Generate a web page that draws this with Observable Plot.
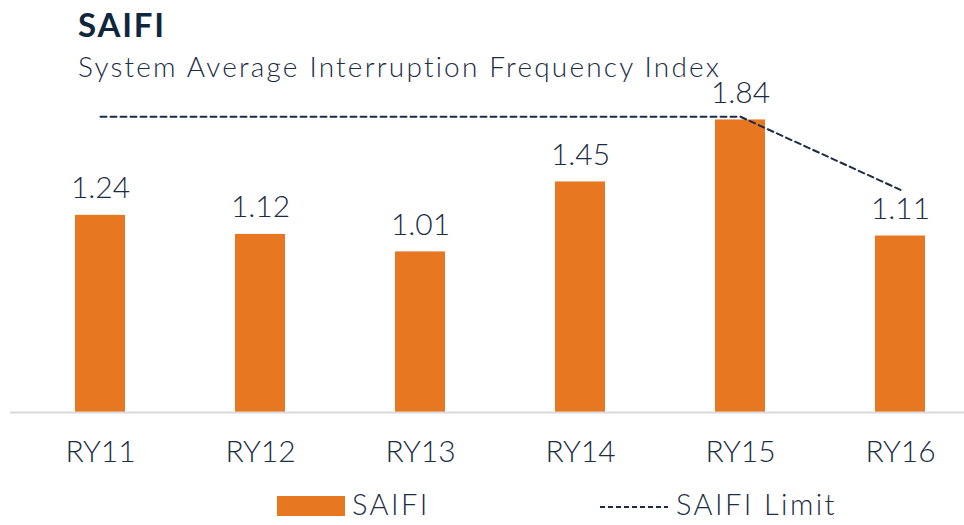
<!DOCTYPE html>
<html>
<head>
<meta charset="utf-8">
<script src="https://cdn.jsdelivr.net/npm/d3@7"></script>
<script src="https://cdn.jsdelivr.net/npm/@observablehq/plot@0.6"></script>
<style>
  html, body { margin: 0; padding: 0; background: #fff; }
  body { width: 964px; height: 525px; overflow: hidden; font-family: Lato, "Open Sans", sans-serif; color: #1b2d45; }
  #head { height: 70px; position: relative; }
  #title { position: absolute; left: 78px; top: 4px; font-size: 33px; font-weight: 700; color: #10263d; letter-spacing: 1.8px; }
  #subtitle { position: absolute; left: 78px; top: 49px; font-size: 28px; font-weight: 300; color: #1b2d45; letter-spacing: 2.2px; white-space: nowrap; }
  #chart { position: relative; height: 418px; }
  #chart svg { overflow: visible; }
  #legend { position: relative; height: 37px; }
  .lg { position: absolute; font-size: 29px; font-weight: 300; color: #1b2d45; top: 1px; letter-spacing: 2.4px; line-height: 29px; white-space: nowrap; }
</style>
</head>
<body>
<div id="head"><div id="title">SAIFI</div><div id="subtitle">System Average Interruption Frequency Index</div></div>
<div id="chart"></div>
<div id="legend">
  <svg width="964" height="37" style="position:absolute;left:0;top:0">
    <rect x="277" y="8" width="68" height="20" fill="#E87722"></rect>
    <line x1="600" x2="668" y1="19" y2="19" stroke="#1b2d45" stroke-width="2" stroke-dasharray="5,3"></line>
  </svg>
  <div class="lg" style="left:352px">SAIFI</div>
  <div class="lg" style="left:676px">SAIFI Limit</div>
</div>
<script>
const years = ["RY11", "RY12", "RY13", "RY14", "RY15", "RY16"];
const saifi = [1.24, 1.12, 1.01, 1.45, 1.84, 1.11];
const saifiLimit = [1.86, 1.86, 1.86, 1.86, 1.86, 1.40];

const data = years.map((y, i) => ({year: y, saifi: saifi[i], limit: saifiLimit[i]}));
const navy = "#1b2d45";

const chart = Plot.plot({
  width: 964,
  height: 418,
  marginTop: 24,
  marginBottom: 76,
  marginLeft: 10,
  marginRight: 0,
  style: {fontFamily: "Lato, 'Open Sans', sans-serif", fontWeight: 300, color: navy, background: "transparent", overflow: "visible"},
  x: {domain: years, range: [19, 980], paddingInner: 0.688, paddingOuter: 0.344, label: null},
  y: {domain: [0, 2], axis: null},
  marks: [
    Plot.barY(data, {x: "year", y: "saifi", fill: "#E87722"}),
    Plot.ruleY([0], {stroke: "#d9d9d9", strokeWidth: 2}),
    Plot.line(data, {x: "year", y: "limit", stroke: navy, strokeWidth: 2, strokeDasharray: "6,4"}),
    Plot.text(data, {x: "year", y: "saifi", text: d => d.saifi.toFixed(2), fontSize: 30, fontWeight: 300, fill: navy, lineAnchor: "bottom", dy: -17}),
    Plot.axisX({tickSize: 0, tickPadding: 40, fontSize: 30, fontWeight: 300, fill: navy, lineAnchor: "middle"})
  ]
});
document.getElementById("chart").appendChild(chart);
</script>
</body>
</html>
